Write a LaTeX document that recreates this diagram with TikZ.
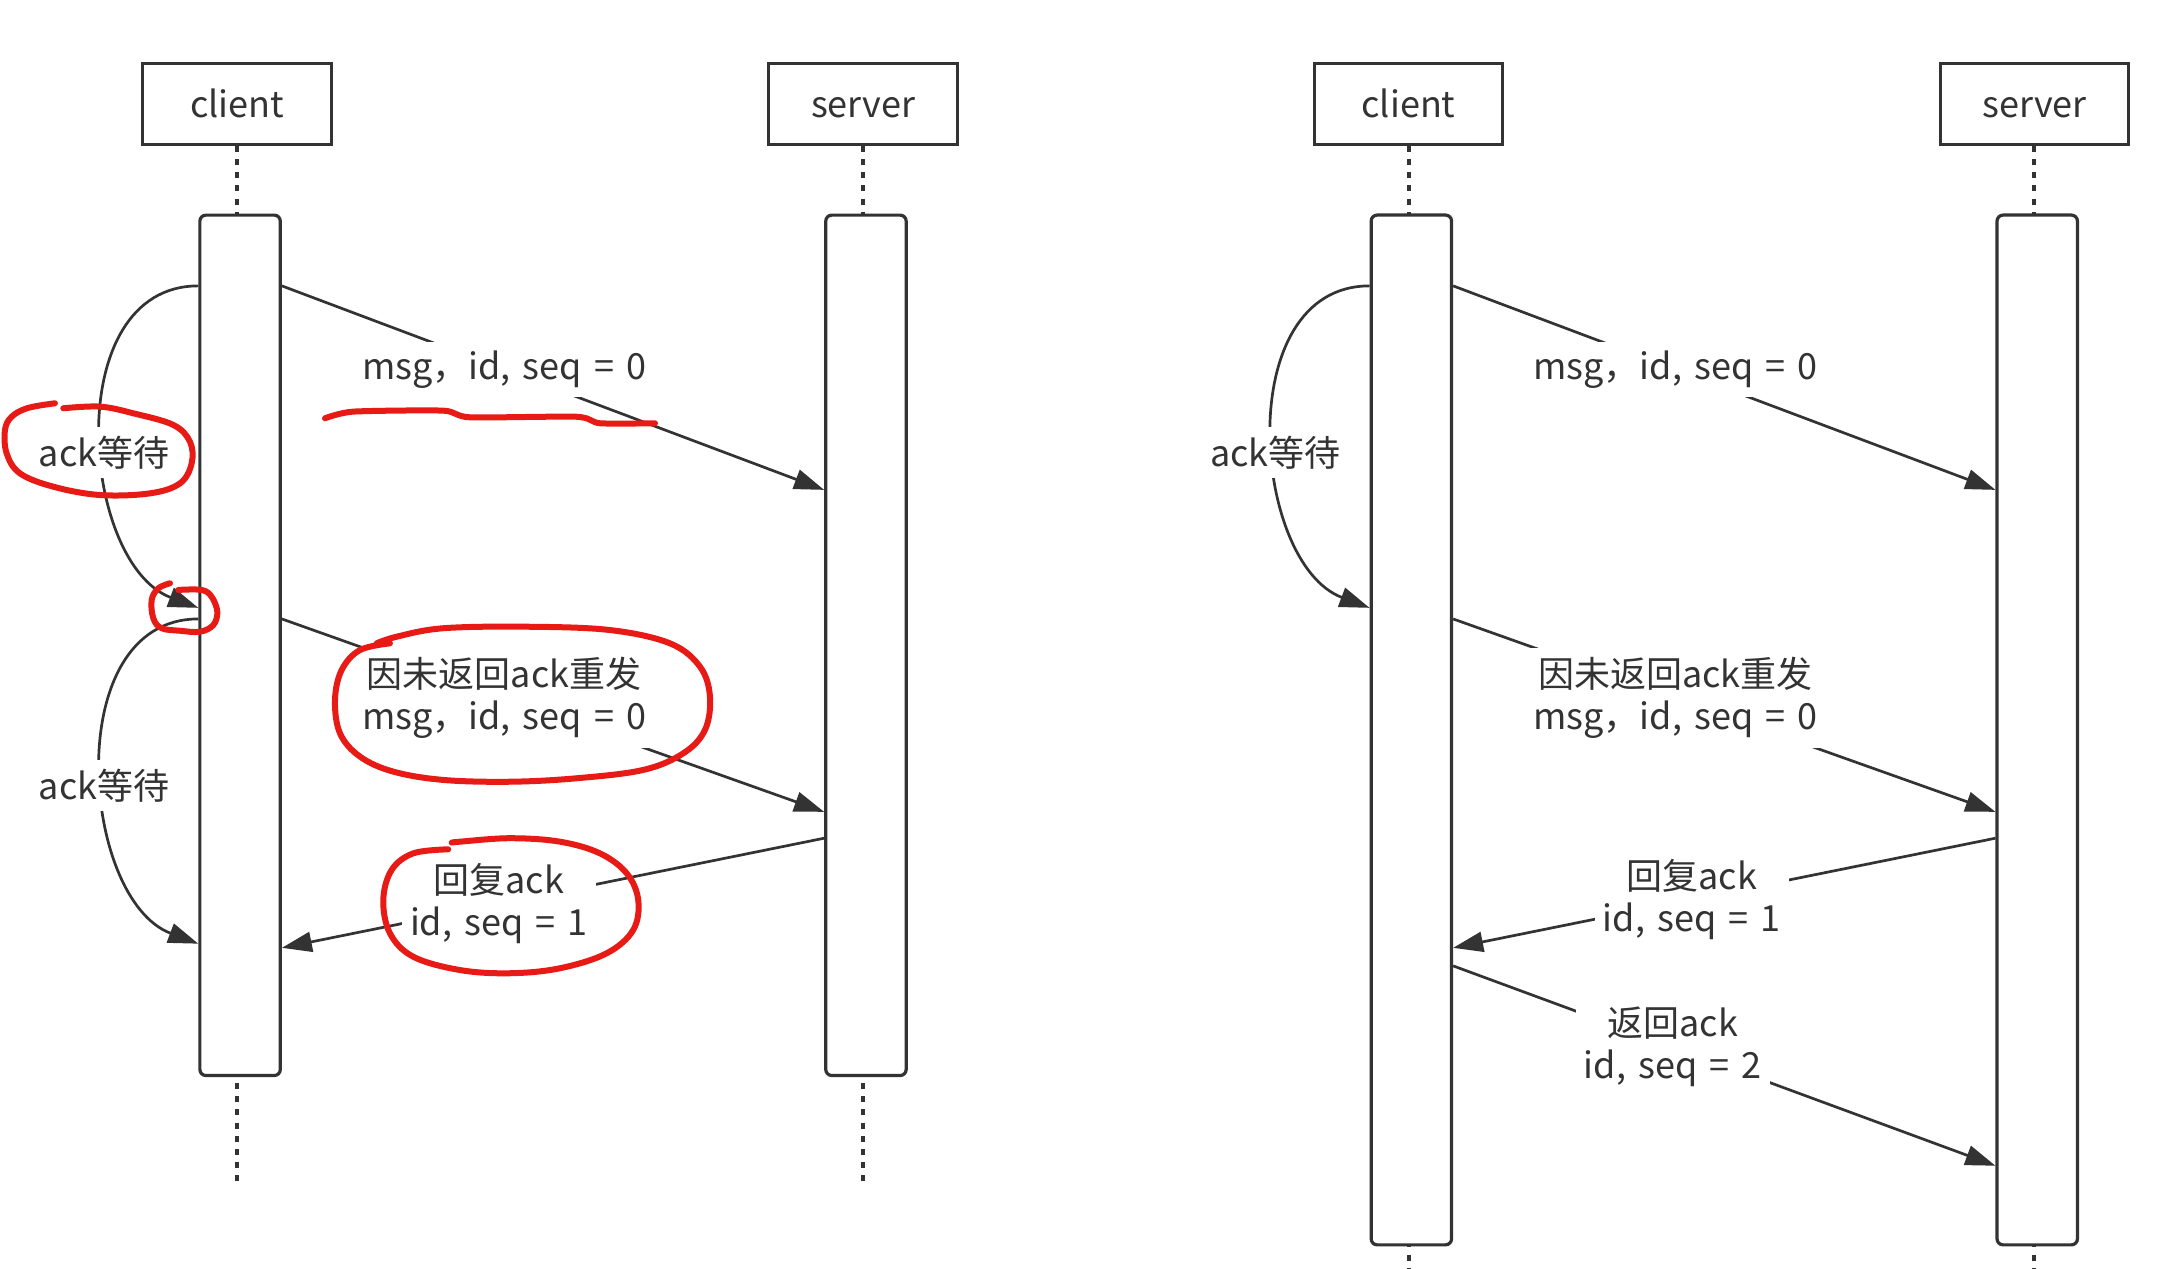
\documentclass[tikz,border=0pt]{standalone}
\usepackage{fontspec}
\setmainfont{Noto Sans CJK SC}[WordSpace=1.5]
\usetikzlibrary{arrows.meta}
\definecolor{ink}{HTML}{333333}
\definecolor{pen}{HTML}{E81A16}
\begin{document}
\begin{tikzpicture}[x=0.6939pt,y=-0.6939pt,
  every node/.style={font=\fontsize{18}{21}\selectfont, text=ink},
  actor/.style={draw=ink, line width=1.5pt, minimum width=94.4pt, minimum height=40.2pt, inner sep=0pt, text height=14.5pt, text depth=1.5pt},
  lifebar/.style={draw=ink, line width=1.6pt, rounded corners=3pt, minimum width=40.2pt, inner sep=0pt, fill=white},
  lifeline/.style={draw=ink, line width=2pt, dash pattern=on 3pt off 3.6pt},
  msg/.style={draw=ink, line width=1.35pt, -{Triangle[length=15pt,width=10pt]}},
  lbl/.style={fill=white, inner xsep=4pt, inner ysep=4.5pt, align=center},
  redpen/.style={draw=pen, line width=3pt, line cap=round, line join=round}
]
\fill[white] (0,0) rectangle (1568,914);
\useasboundingbox (0,0) rectangle (1568,914);

% ---------- left diagram ----------
\node[actor] (cl1) at (171,75) {client};
\node[actor] (sv1) at (622,75) {server};
\coordinate (ce1) at (171,853);
\coordinate (se1) at (622,853);
\draw[lifeline] (cl1.south) -- (ce1);
\draw[lifeline] (sv1.south) -- (se1);
\node[lifebar, minimum height=430.2pt] (cb1) at (173,465) {};
\node[lifebar, minimum height=430.2pt] (sb1) at (624,465) {};

\draw[msg] (cb1.east |- 0,206) -- node[lbl,pos=0.41] (la1) {msg，id, seq = 0} (sb1.west |- 0,353);
\draw[msg] (cb1.east |- 0,446) -- node[lbl,pos=0.41] (la2) {因未返回ack重发\\msg，id, seq = 0} (sb1.west |- 0,585);
\draw[msg] (sb1.west |- 0,604) -- node[lbl,pos=0.6] (la3) {回复ack\\id, seq = 1} (cb1.east |- 0,683);

\draw[msg] (cb1.west |- 0,206) .. controls +(-100,0) and +(-85,-32) .. (cb1.west |- 0,438);
\node[lbl] (wa1) at (75,326) {ack等待};
\draw[msg] (cb1.west |- 0,446) .. controls +(-100,0) and +(-85,-32) .. (cb1.west |- 0,680);
\node[lbl] (wa2) at (75,566) {ack等待};

% ---------- right diagram ----------
\node[actor] (cl2) at (1015,75) {client};
\node[actor] (sv2) at (1466,75) {server};
\coordinate (ce2) at (1015,914);
\coordinate (se2) at (1466,914);
\draw[lifeline] (cl2.south) -- (ce2);
\draw[lifeline] (sv2.south) -- (se2);
\node[lifebar, minimum height=514.9pt] (cb2) at (1017,526) {};
\node[lifebar, minimum height=514.9pt] (sb2) at (1468,526) {};

\draw[msg] (cb2.east |- 0,206) -- node[lbl,pos=0.41] (lb1) {msg，id, seq = 0} (sb2.west |- 0,353);
\draw[msg] (cb2.east |- 0,446) -- node[lbl,pos=0.41] (lb2) {因未返回ack重发\\msg，id, seq = 0} (sb2.west |- 0,585);
\draw[msg] (sb2.west |- 0,604) -- node[lbl,pos=0.56] (lb3) {回复ack\\id, seq = 1} (cb2.east |- 0,683);
\draw[msg] (cb2.east |- 0,696) -- node[lbl,pos=0.405] (lb4) {返回ack\\id, seq = 2} (sb2.west |- 0,840);

\draw[msg] (cb2.west |- 0,206) .. controls +(-100,0) and +(-85,-32) .. (cb2.west |- 0,438);
\node[lbl] (wb1) at (919,326) {ack等待};

% ---------- red hand-drawn marks ----------
\draw[redpen] plot[smooth, tension=0.6] coordinates {(39.6,290.6) (20,294) (8.4,300.3) (3.6,309.8) (4.8,326.7) (14.4,341.1) (38.4,350.7) (72,356.7) (108.1,355.5) (129.7,348.3) (138.1,333.9) (136.9,318.3) (124.9,306.2) (96,297.8) (72,293) (45.6,294.2)};
\draw[redpen] plot[smooth, tension=0.4] coordinates {(234.2,301.4) (254.6,296.6) (319.4,295.9) (338.7,300.7) (415.5,300.3) (432.3,305) (472,305)};
\draw[redpen] plot[smooth, tension=0.6] coordinates {(122.5,420.3) (114.1,423.9) (109.3,432.3) (110.5,445.6) (116.5,452.7) (129.7,454.5) (144.1,455.2) (153.7,450.4) (156.6,440.8) (152.5,430) (145.3,425.1) (128.5,425.1)};
\draw[redpen] plot[smooth, tension=0.6] coordinates {(281,463.6) (259.4,468.4) (246.2,482.8) (241.4,504.4) (245,528.4) (259.4,545.2) (283.4,556) (319.4,562) (367.5,563.3) (415.5,560.8) (463.5,554.8) (492.4,542.8) (508,526) (511.6,502) (504.4,480.4) (482.8,463.6) (439.5,454) (379.5,451.6) (319.4,452.7) (285.8,458.8) (271.4,463.6)};
\draw[redpen] plot[smooth, tension=0.6] coordinates {(323,612) (297.8,614.9) (282.2,626.9) (276.2,648.5) (281,672.5) (297.8,689.4) (331.5,699) (367.5,701.3) (403.5,697.7) (437.2,686.9) (456.3,670.1) (459.9,648.5) (451.6,629.3) (432.3,614.9) (403.5,606.5) (367.5,604) (331.5,606.5) (325.5,607.2)};
\end{tikzpicture}
\end{document}
